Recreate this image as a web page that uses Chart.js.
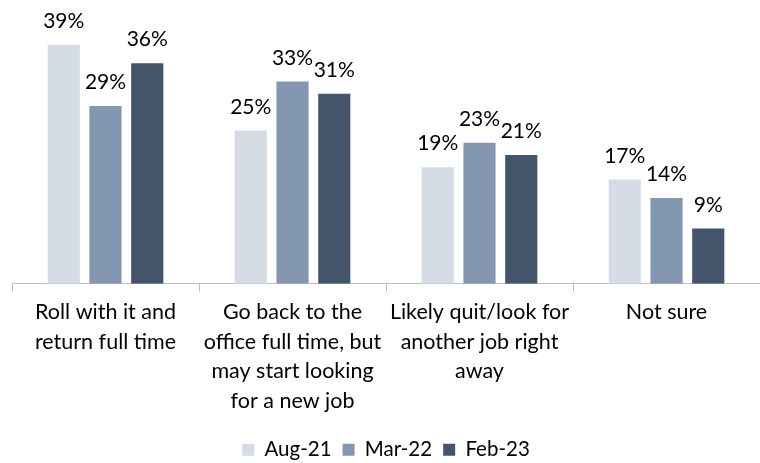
<!DOCTYPE html>
<html>
<head>
<meta charset="utf-8">
<script src="https://cdn.jsdelivr.net/npm/chart.js@4/dist/chart.umd.min.js"></script>
<style>
  html, body { margin: 0; padding: 0; background: #fff; }
  #wrap { width: 760px; height: 463px; }
</style>
</head>
<body>
<div id="wrap"><canvas id="c" width="760" height="463"></canvas></div>
<script>
// Survey answers by wave (percent of respondents)
const categories = [
  ["Roll with it and", "return full time"],
  ["Go back to the", "office full time, but", "may start looking", "for a new job"],
  ["Likely quit/look for", "another job right", "away"],
  ["Not sure"]
];
const seriesNames = ["Aug-21", "Mar-22", "Feb-23"];
const aug21 = [39, 25, 19, 17];
const mar22 = [29, 33, 23, 14];
const feb23 = [36, 31, 21, 9];
const seriesColors = ["#D6DCE5", "#8497B0", "#44546A"];

const FONT = "Lato, 'Open Sans', sans-serif";

// Draws the percentage above every bar
const valueLabels = {
  id: "valueLabels",
  afterDatasetsDraw(chart) {
    const ctx = chart.ctx;
    ctx.save();
    ctx.font = "21px " + FONT;
    ctx.fillStyle = "#000";
    ctx.textAlign = "center";
    ctx.textBaseline = "alphabetic";
    chart.data.datasets.forEach((ds, i) => {
      chart.getDatasetMeta(i).data.forEach((bar, j) => {
        ctx.fillText(ds.data[j] + "%", bar.x, bar.y - 17);
      });
    });
    ctx.restore();
  }
};

// Nudges the legend row a little lower, closer to the bottom edge
const legendNudge = {
  id: "legendNudge",
  afterLayout(chart) {
    if (chart.legend) {
      chart.legend.top += 7;
      chart.legend.bottom += 7;
    }
  }
};

new Chart(document.getElementById("c"), {
  type: "bar",
  data: {
    labels: categories,
    datasets: [aug21, mar22, feb23].map((vals, i) => ({
      label: seriesNames[i],
      data: vals,
      backgroundColor: seriesColors[i],
      barPercentage: 0.77,
      categoryPercentage: 0.67
    }))
  },
  options: {
    responsive: false,
    animation: false,
    events: [],
    layout: { padding: { left: 12, right: 0, top: 8, bottom: 0 } },
    plugins: {
      tooltip: { enabled: false },
      legend: {
        position: "bottom",
        labels: {
          font: { family: FONT, size: 20.5 },
          color: "#000",
          boxWidth: 12,
          boxHeight: 12,
          padding: 11
        }
      }
    },
    scales: {
      x: {
        grid: {
          offset: true,
          drawOnChartArea: false,
          drawTicks: true,
          tickLength: 8,
          color: "#BFBFBF"
        },
        border: { display: true, color: "#BFBFBF", width: 1 },
        ticks: {
          color: "#000",
          font: { family: FONT, size: 21.5, lineHeight: 1.37 },
          maxRotation: 0,
          autoSkip: false,
          padding: 6
        }
      },
      y: {
        display: false,
        min: 0,
        max: 45
      }
    }
  },
  plugins: [valueLabels, legendNudge]
});
</script>
</body>
</html>
